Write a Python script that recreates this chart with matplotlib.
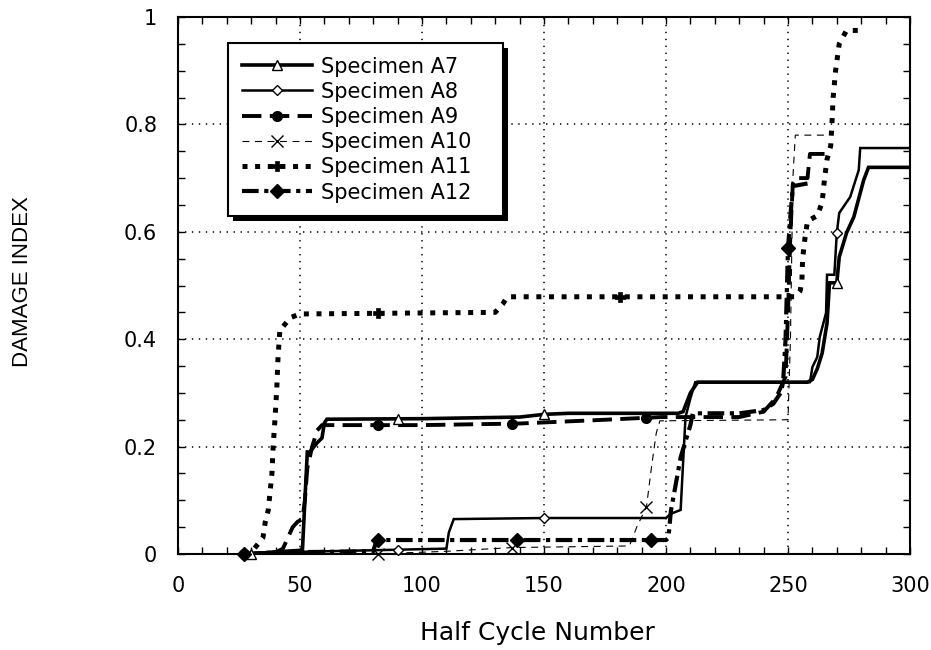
import numpy as np
import matplotlib
matplotlib.use("Agg")
import matplotlib.pyplot as plt
from matplotlib.lines import Line2D
from matplotlib.patches import Rectangle
from matplotlib.transforms import IdentityTransform
from matplotlib.ticker import MultipleLocator

plt.rcParams['font.family'] = ['DejaVu Sans']
plt.rcParams['lines.scale_dashes'] = False

# ---------------- data ----------------
a7_x = [30, 40, 51, 52, 53, 54, 57, 59, 60, 61, 100, 140, 150, 160, 205, 207, 210, 213,
        258, 260, 262, 264, 266, 267, 270, 271, 274, 277, 281, 283, 300]
a7_y = [0, 0.004, 0.007, 0.1, 0.19, 0.19, 0.207, 0.216, 0.244, 0.251, 0.252, 0.255, 0.26, 0.262,
        0.262, 0.265, 0.3, 0.32, 0.32, 0.325, 0.345, 0.374, 0.43, 0.505, 0.505, 0.553, 0.598,
        0.628, 0.696, 0.72, 0.72]

a8_x = [28, 40, 90, 110, 111, 113, 150, 200, 202, 206, 207, 208, 210, 212, 259, 260, 262,
        263, 265.6, 266, 269, 270, 271, 275.5, 279, 279.6, 300]
a8_y = [0, 0.003, 0.008, 0.01, 0.04, 0.065, 0.067, 0.067, 0.075, 0.082, 0.17, 0.255, 0.29,
        0.32, 0.32, 0.348, 0.367, 0.404, 0.449, 0.52, 0.52, 0.598, 0.635, 0.665, 0.715, 0.756,
        0.756]

a9_x = [27, 40, 43, 45, 47, 49, 51, 52, 53, 55, 57, 59, 100, 140, 175, 198, 230, 240, 245,
        247, 249, 250, 251, 252, 253, 258, 259, 267]
a9_y = [0, 0.003, 0.01, 0.03, 0.05, 0.06, 0.065, 0.1, 0.16, 0.2, 0.23, 0.24, 0.24, 0.243,
        0.25, 0.255, 0.255, 0.265, 0.29, 0.31, 0.33, 0.45, 0.6, 0.69, 0.7, 0.7, 0.745, 0.745]

a10_x = [27, 80, 110, 137, 185, 188, 192, 194, 196, 197.5, 250, 251, 252, 253, 267]
a10_y = [0, 0.0, 0.005, 0.012, 0.015, 0.05, 0.088, 0.16, 0.225, 0.248, 0.25, 0.4, 0.7, 0.78,
         0.78]

a11_x = [27, 30.7, 34.8, 35.7, 37, 38.5, 39, 39.8, 40.5, 41, 41.8, 43, 46, 50, 130, 133, 135,
         253, 255, 255.7, 256, 257, 258, 262, 264, 265, 266, 267.5, 268, 268.5, 269.5, 271,
         274, 279]
a11_y = [0, 0.007, 0.03, 0.058, 0.082, 0.15, 0.2, 0.255, 0.31, 0.367, 0.42, 0.423, 0.44, 0.447,
         0.45, 0.465, 0.479, 0.479, 0.49, 0.51, 0.55, 0.59, 0.62, 0.63, 0.655, 0.7, 0.735, 0.76,
         0.8, 0.85, 0.9, 0.95, 0.975, 0.975]

a12_x = [27, 40, 80, 81, 82, 200, 201, 202, 204, 206, 208, 210, 211, 230, 240, 244, 247, 248,
         249, 250, 251, 252, 258]
a12_y = [0, 0.003, 0.005, 0.02, 0.026, 0.026, 0.03, 0.08, 0.13, 0.18, 0.21, 0.24, 0.262, 0.262,
         0.268, 0.28, 0.3, 0.32, 0.4, 0.57, 0.63, 0.685, 0.69]

# marker positions along each curve (x values)
mk_a7 = [30, 90, 150, 270]
mk_a8 = [90, 150, 270]
mk_a9 = [27, 82, 137, 192]
mk_a10 = [82, 137, 192]
mk_a11 = [82, 181]
mk_a12 = [27, 82, 139, 194, 250]

labels = ['Specimen A7', 'Specimen A8', 'Specimen A9', 'Specimen A10', 'Specimen A11',
          'Specimen A12']
x_ticks = [0, 50, 100, 150, 200, 250, 300]
y_ticks = [0, 0.2, 0.4, 0.6, 0.8, 1.0]

# ---------------- styles ----------------
styles = [
    dict(ls='-', lw=2.6, marker='^', ms=7, mfc='white', mew=1.0),
    dict(ls='-', lw=1.8, marker='D', ms=5, mfc='white', mew=1.0),
    dict(ls=(0, (14, 6)), lw=2.8, marker='o', ms=7, mfc='black', mew=1.0),
    dict(ls=(0, (5, 4)), lw=0.8, marker='x', ms=8, mfc='black', mew=1.0),
    dict(ls=(0, (3.6, 5.5)), lw=3.6, marker='P', ms=7, mfc='black', mew=0.5),
    dict(ls=(0, (12, 4, 3, 4)), lw=3.0, marker='D', ms=7, mfc='black', mew=1.0),
]
series = [(a7_x, a7_y, mk_a7), (a8_x, a8_y, mk_a8), (a9_x, a9_y, mk_a9),
          (a10_x, a10_y, mk_a10), (a11_x, a11_y, mk_a11), (a12_x, a12_y, mk_a12)]

fig = plt.figure(figsize=(9.31, 6.5), dpi=100)
ax = fig.add_axes([178 / 931, 1 - 554 / 650, 732 / 931, 537 / 650])

handles = []
for (xs, ys, mks), st, lab in zip(series, styles, labels):
    ax.plot(xs, ys, color='black', linestyle=st['ls'], linewidth=st['lw'],
            dash_capstyle='butt', solid_joinstyle='miter', zorder=3)
    mx = np.array(mks, dtype=float)
    my = np.interp(mx, xs, ys)
    ax.plot(mx, my, linestyle='none', marker=st['marker'], ms=st['ms'], mfc=st['mfc'],
            mec='black', mew=st['mew'], zorder=4, clip_on=False)
    handles.append(Line2D([], [], color='black', linestyle=st['ls'], linewidth=st['lw'],
                          dash_capstyle='butt', marker=st['marker'], ms=st['ms'],
                          mfc=st['mfc'], mec='black', mew=st['mew']))

ax.set_xlim(0, 300)
ax.set_ylim(0, 1)
ax.set_xticks(x_ticks)
ax.set_yticks(y_ticks)
ax.xaxis.set_minor_locator(MultipleLocator(10))
ax.yaxis.set_minor_locator(MultipleLocator(0.05))
ax.yaxis.set_major_formatter(plt.FuncFormatter(lambda v, p: f"{v:g}"))
ax.tick_params(which='both', direction='in', top=True, right=True, width=1.0,
               labelsize=15, colors='black')
ax.tick_params(which='major', length=5)
ax.tick_params(which='minor', length=5)
ax.tick_params(axis='y', pad=15)
ax.tick_params(axis='x', pad=16)
for s in ax.spines.values():
    s.set_linewidth(1.5)
ax.grid(True, which='major', color='black', linestyle=(0, (1, 4)), linewidth=1.1)
ax.set_axisbelow(True)

ax.set_xlabel('Half Cycle Number', fontsize=18, va='center')
ax.xaxis.set_label_coords(0.491, -0.147)
ax.set_ylabel('DAMAGE INDEX', fontsize=16, va='center', family='Liberation Sans')
ax.yaxis.set_label_coords(-0.213, 0.508)

# legend box: x 228..503 px, y 43..218 px
bx0 = (228 - 178) / 732
bw = (503 - 228) / 732
by1 = (554 - 43) / 537
bh = (218 - 43) / 537
leg = ax.legend(handles, labels, loc='upper left', bbox_to_anchor=(bx0, by1 - bh, bw, bh),
                mode='expand', borderaxespad=0, numpoints=1, fontsize=15, handlelength=3.4,
                handletextpad=0.4, labelspacing=0.25, borderpad=0.65, fancybox=False,
                framealpha=1, edgecolor='black')
leg.get_frame().set_linewidth(1.5)
leg.set_zorder(6)

fig.canvas.draw()
bb = leg.get_window_extent()
shadow = Rectangle((bb.x0 + 5, bb.y0 - 5), bb.width, bb.height, transform=IdentityTransform(),
                   facecolor='black', edgecolor='none', zorder=5.5)
ax.add_artist(shadow)

fig.savefig('out.png', dpi=100)
